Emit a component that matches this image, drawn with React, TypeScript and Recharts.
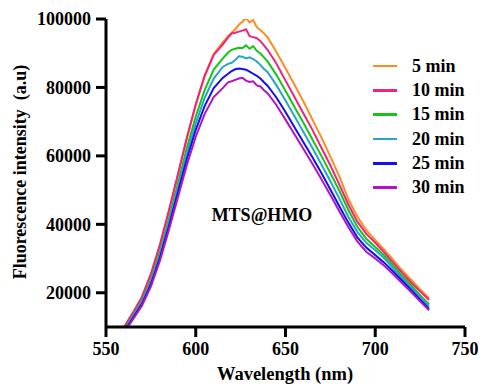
import { LineChart, Line, XAxis, YAxis } from 'recharts';

const FONT = '"Liberation Serif", "Times New Roman", serif';

const wavelengths = [
  560, 565, 570, 575, 580, 585, 590, 595, 600, 605, 610, 615, 618, 620, 622, 624, 626, 628, 630, 632, 634,
  636, 638, 640, 645, 650, 655, 660, 665, 670, 675, 680, 685, 690, 695, 700, 705, 710, 715, 720, 725, 730,
];

const min5 = [
  9800, 14000, 18600, 25200, 33600, 43600, 54200, 65000, 75000, 83600, 89800, 93200, 95000, 96000, 97000,
  98300, 99200, 100300, 99000, 99700, 97600, 96800, 95800, 94700, 90300, 85600, 80800, 75900, 70600, 65400,
  59800, 54000, 47400, 42300, 38300, 35400, 32600, 29600, 26500, 23800, 21000, 18400,
];
const min10 = [
  9900, 14200, 18800, 25500, 34000, 44000, 54500, 65200, 75000, 83400, 89500, 92500, 94600, 95800, 96000,
  96300, 96600, 97000, 95000, 94700, 94400, 93600, 92300, 91000, 86900, 82000, 77200, 72400, 67600, 62400,
  57200, 51600, 45800, 40800, 37200, 34600, 31800, 28800, 25800, 23000, 20400, 17900,
];
const min15 = [
  9200, 13300, 17600, 23800, 31800, 41500, 51800, 62200, 71500, 79300, 85200, 88400, 90200, 91000, 91300,
  91600, 91500, 92300, 91300, 92100, 90700, 89900, 88800, 87600, 83600, 79000, 74300, 69700, 64800, 60000,
  55000, 49800, 44200, 39300, 35800, 33400, 30900, 28000, 24900, 22200, 19300, 16600,
];
const min20 = [
  9000, 13000, 17200, 23200, 31000, 40500, 50500, 60600, 69500, 77000, 82600, 86000, 86900, 87200, 88000,
  89100, 89000, 88500, 88800, 88300, 87600, 86600, 85400, 84500, 80600, 76200, 71600, 67000, 62300, 57500,
  52600, 47500, 42200, 37800, 34600, 32400, 30100, 27200, 24200, 21500, 18700, 16000,
];
const min25 = [
  8600, 12600, 16700, 22500, 30200, 39400, 49200, 59000, 67600, 74600, 79800, 82800, 84000, 84800, 85300,
  85500, 85400, 85200, 84600, 84000, 83400, 82600, 81500, 80500, 77000, 72800, 68400, 64000, 59600, 55000,
  50200, 45300, 40500, 36200, 33200, 31000, 28800, 26200, 23500, 20800, 18000, 15300,
];
const min30 = [
  8300, 12200, 16200, 21800, 29300, 38300, 47800, 57300, 65600, 72300, 77200, 79800, 81500, 81800, 82200,
  82600, 82800, 82000, 81600, 81800, 80600, 80300, 79200, 78300, 74800, 70600, 66300, 62000, 57700, 53200,
  48600, 43800, 39200, 35000, 32000, 30000, 27900, 25400, 22800, 20200, 17500, 14900,
];

const xTicks = [550, 600, 650, 700, 750];
const yTicks = [20000, 40000, 60000, 80000, 100000];

const series = [
  { key: 'm5', name: '5 min', color: '#FF8B1F', values: min5 },
  { key: 'm10', name: '10 min', color: '#F5217D', values: min10 },
  { key: 'm15', name: '15 min', color: '#16C416', values: min15 },
  { key: 'm20', name: '20 min', color: '#28A5C4', values: min20 },
  { key: 'm25', name: '25 min', color: '#1010F0', values: min25 },
  { key: 'm30', name: '30 min', color: '#B412C8', values: min30 },
];

const data = wavelengths.map((w, i) => {
  const row: Record<string, number> = { w };
  series.forEach(s => {
    row[s.key] = s.values[i];
  });
  return row;
});

const tickStyle = { fontFamily: FONT, fontWeight: 'bold', fontSize: 18, fill: '#000' };

const App = () => {
  return (
    <div style={{ position: 'absolute', left: 0, top: 0, width: 483, height: 389, background: '#fff' }}>
      <LineChart width={483} height={389} data={data} margin={{ top: 19, right: 18, left: 0, bottom: 0 }}>
        <XAxis
          dataKey="w"
          type="number"
          domain={[550, 750]}
          ticks={xTicks}
          height={62}
          tick={tickStyle}
          tickSize={10}
          tickMargin={5}
          axisLine={{ stroke: '#000', strokeWidth: 3 }}
          tickLine={{ stroke: '#000', strokeWidth: 3 }}
          label={{
            content: () => (
              <text x={285} y={380} textAnchor="middle" style={{ ...tickStyle, fontSize: 18.5 }}>
                Wavelength (nm)
              </text>
            ),
          }}
        />
        <YAxis
          type="number"
          domain={[10000, 100000]}
          ticks={yTicks}
          allowDataOverflow
          width={106}
          tick={tickStyle}
          tickSize={10}
          tickMargin={5}
          axisLine={{ stroke: '#000', strokeWidth: 3 }}
          tickLine={{ stroke: '#000', strokeWidth: 3 }}
          label={{
            content: () => (
              <text
                x={26}
                y={172}
                transform="rotate(-90 26 172)"
                textAnchor="middle"
                style={{ ...tickStyle, whiteSpace: 'pre' }}
              >
                {'Fluorescence intensity  (a.u)'}
              </text>
            ),
          }}
        />
        {series.map(s => (
          <Line
            key={s.key}
            dataKey={s.key}
            name={s.name}
            stroke={s.color}
            strokeWidth={2}
            dot={false}
            type="linear"
            isAnimationActive={false}
          />
        ))}
      </LineChart>

      {/* sample label inside the plot */}
      <div
        style={{
          position: 'absolute',
          left: 262,
          top: 215,
          transform: 'translate(-50%, -50%)',
          fontFamily: FONT,
          fontWeight: 'bold',
          fontSize: 18,
          whiteSpace: 'nowrap',
        }}
      >
        MTS@HMO
      </div>

      {/* legend */}
      <div style={{ position: 'absolute', left: 373, top: 54, fontFamily: FONT, fontWeight: 'bold', fontSize: 18 }}>
        {series.map(s => (
          <div key={s.key} style={{ display: 'flex', alignItems: 'center', height: 24.3, whiteSpace: 'nowrap' }}>
            <span style={{ display: 'inline-block', width: 24, height: 2.5, background: s.color, marginRight: 15 }} />
            {s.name}
          </div>
        ))}
      </div>
    </div>
  );
};

export default App;
